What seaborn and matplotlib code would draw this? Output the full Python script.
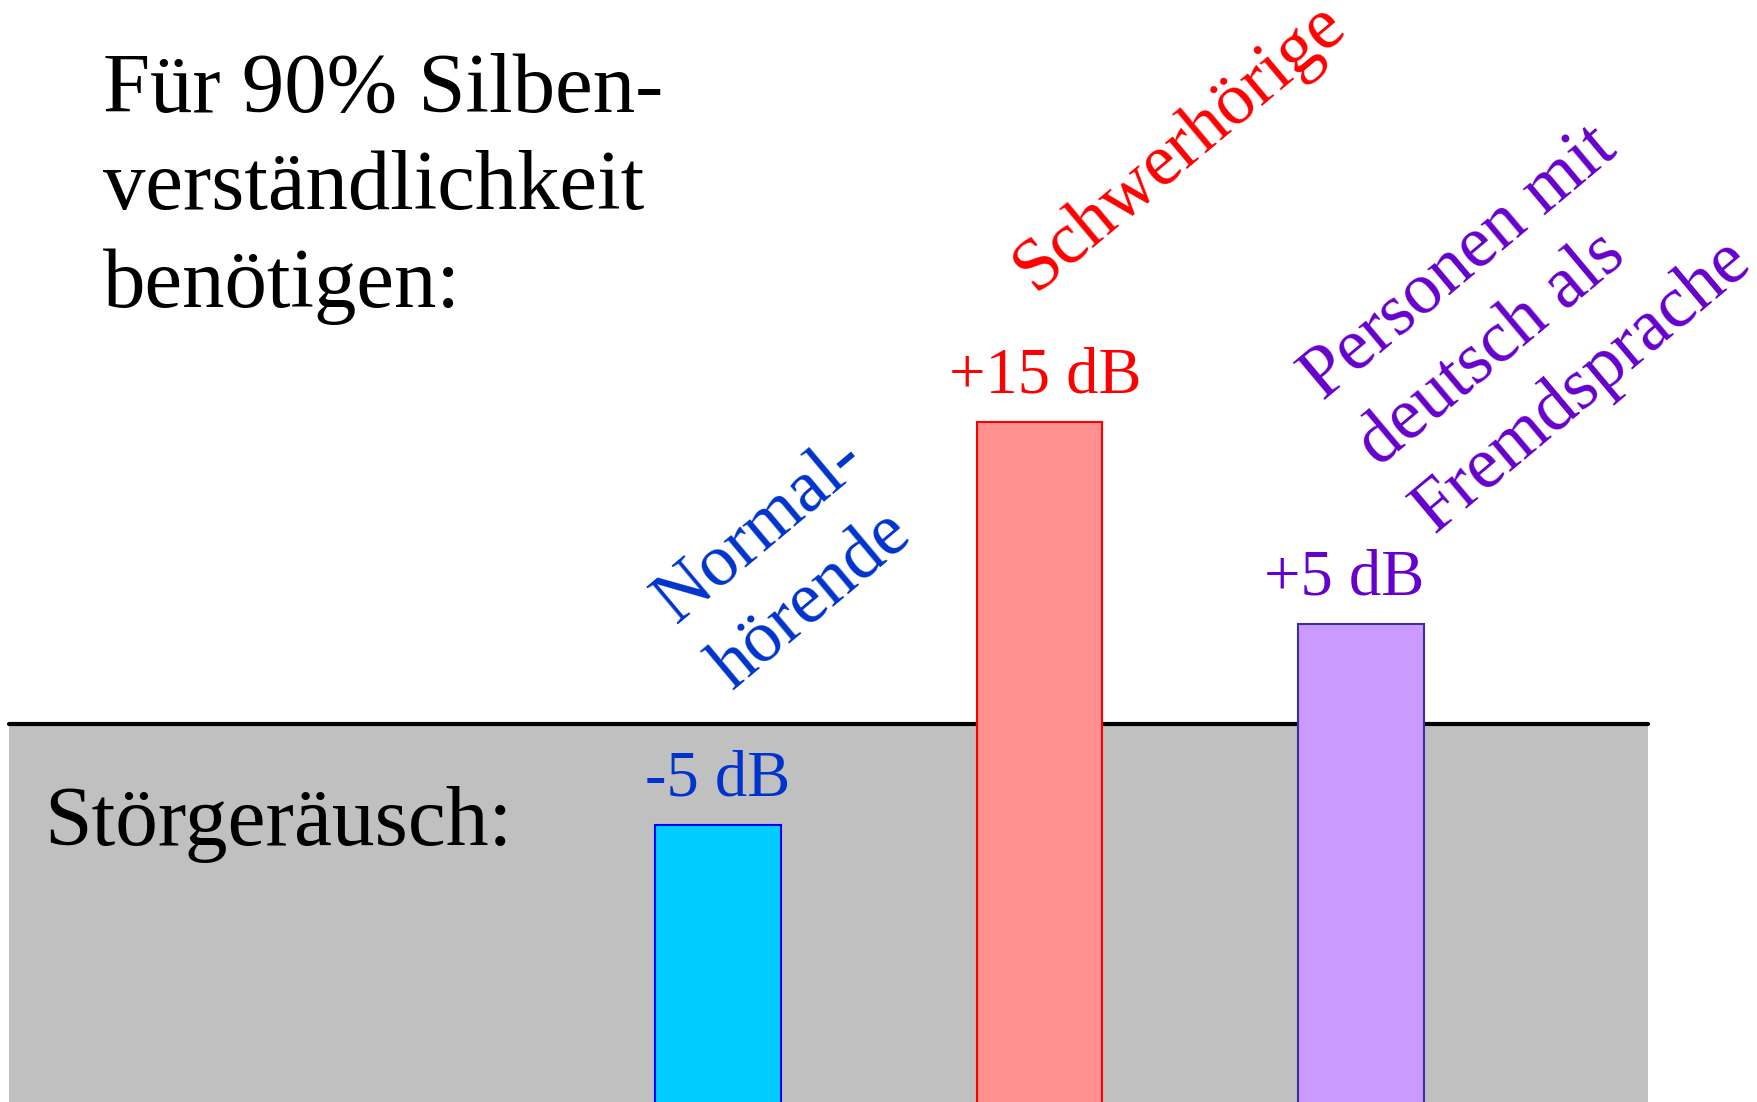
import matplotlib
matplotlib.use("Agg")
import matplotlib.pyplot as plt
import pandas as pd
import seaborn as sns

# data: required signal-to-noise for 90% syllable intelligibility
groups = ["Normal-\nhörende", "Schwerhörige", "Personen mit\ndeutsch als\nFremdsprache"]
snr_db = [-5, 15, 5]
value_labels = ["-5 dB", "+15 dB", "+5 dB"]
noise_level = 0

FILL = ["#00CCFF", "#FF9090", "#CC99FF"]
EDGE = ["#0000FF", "#FF0000", "#333399"]
TEXT = ["#0033CC", "#FF0000", "#6600CC"]
GREY = "#C0C0C0"
FLOOR = -40

sns.set_style("white")
plt.rcParams["font.family"] = ["Liberation Serif", "DejaVu Serif"]

df = pd.DataFrame({"group": groups, "snr": snr_db})
df["height"] = df["snr"] - FLOOR

fig = plt.figure(figsize=(17.57, 11.02), dpi=100)
ax = fig.add_axes([0, 0, 1, 1])

# noise region
ax.axhspan(FLOOR, noise_level, xmin=0.005, xmax=0.938, facecolor=GREY, edgecolor="none", lw=0, zorder=0)
ax.axhline(noise_level, xmin=0.005, xmax=0.938, color="black", lw=3, zorder=1)

sns.barplot(data=df, x="group", y="height", hue="group", palette=FILL, saturation=1,
            legend=False, errorbar=None, width=0.39, bottom=FLOOR, ax=ax, zorder=2)
bars = [p for c in ax.containers for p in c]
for p, ec in zip(bars, EDGE):
    p.set_edgecolor(ec)
    p.set_linewidth(1.5)

ax.set_xlim(-2.233, 3.232)
ax.set_ylim(-18.74, 35.95)
ax.axis("off")

# value labels above the bars
label_dx = [0, 4, -12]
for i, (v, lab, c, dx) in enumerate(zip(snr_db, value_labels, TEXT, label_dx)):
    ax.annotate(lab, xy=(i, v), xytext=(dx, 21), textcoords="offset points",
                ha="center", va="baseline", fontsize=46.5, color=c)

# rotated group names, left aligned, anchored at baseline start of last line
offsets = [(1.5, 107), (-3, 93), (44.5, 75)]
for i, (g, v, c, off) in enumerate(zip(groups, snr_db, TEXT, offsets)):
    ax.annotate(g, xy=(i, v), xytext=off, textcoords="offset points",
                ha="left", va="baseline", rotation=40, rotation_mode="anchor",
                multialignment="left", fontsize=53, color=c, linespacing=1.36)

fig.text(103 / 1757, 1 - 307 / 1102, "Für 90% Silben-\nverständlichkeit\nbenötigen:",
         ha="left", va="baseline", fontsize=61, color="black", linespacing=1.35)
fig.text(44 / 1757, 1 - 845 / 1102, "Störgeräusch:",
         ha="left", va="baseline", fontsize=61.5, color="black")

fig.savefig("out.png", dpi=100, facecolor="white")
